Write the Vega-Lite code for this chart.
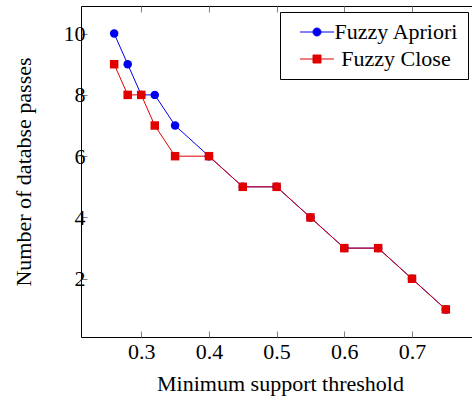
{
  "$schema": "https://vega.github.io/schema/vega-lite/v6.json",
  "width": 398,
  "height": 331,
  "autosize": {"type": "none"},
  "padding": {"left": 81, "top": 6, "right": 0, "bottom": 66},
  "background": "white",
  "config": {
    "view": {"stroke": "black", "strokeWidth": 1},
    "font": "Liberation Serif",
    "axis": {
      "labelFont": "Liberation Serif",
      "titleFont": "Liberation Serif",
      "labelFontSize": 22,
      "titleFontSize": 22,
      "labelColor": "black",
      "titleColor": "black",
      "titleFontWeight": "normal",
      "domain": false,
      "grid": false,
      "tickColor": "#7f7f7f",
      "tickSize": -6,
      "tickWidth": 1
    }
  },
  "data": {
    "values": [
      {"series": "Fuzzy Apriori", "support": 0.26, "passes": 10},
      {"series": "Fuzzy Apriori", "support": 0.28, "passes": 9},
      {"series": "Fuzzy Apriori", "support": 0.3, "passes": 8},
      {"series": "Fuzzy Apriori", "support": 0.32, "passes": 8},
      {"series": "Fuzzy Apriori", "support": 0.35, "passes": 7},
      {"series": "Fuzzy Apriori", "support": 0.4, "passes": 6},
      {"series": "Fuzzy Apriori", "support": 0.45, "passes": 5},
      {"series": "Fuzzy Apriori", "support": 0.5, "passes": 5},
      {"series": "Fuzzy Apriori", "support": 0.55, "passes": 4},
      {"series": "Fuzzy Apriori", "support": 0.6, "passes": 3},
      {"series": "Fuzzy Apriori", "support": 0.65, "passes": 3},
      {"series": "Fuzzy Apriori", "support": 0.7, "passes": 2},
      {"series": "Fuzzy Apriori", "support": 0.75, "passes": 1},
      {"series": "Fuzzy Close", "support": 0.26, "passes": 9},
      {"series": "Fuzzy Close", "support": 0.28, "passes": 8},
      {"series": "Fuzzy Close", "support": 0.3, "passes": 8},
      {"series": "Fuzzy Close", "support": 0.32, "passes": 7},
      {"series": "Fuzzy Close", "support": 0.35, "passes": 6},
      {"series": "Fuzzy Close", "support": 0.4, "passes": 6},
      {"series": "Fuzzy Close", "support": 0.45, "passes": 5},
      {"series": "Fuzzy Close", "support": 0.5, "passes": 5},
      {"series": "Fuzzy Close", "support": 0.55, "passes": 4},
      {"series": "Fuzzy Close", "support": 0.6, "passes": 3},
      {"series": "Fuzzy Close", "support": 0.65, "passes": 3},
      {"series": "Fuzzy Close", "support": 0.7, "passes": 2},
      {"series": "Fuzzy Close", "support": 0.75, "passes": 1}
    ]
  },
  "resolve": {"axis": {"x": "independent", "y": "independent"}},
  "layer": [
    {
      "mark": {"type": "line", "strokeWidth": 1},
      "encoding": {
        "x": {
          "field": "support", "type": "quantitative",
          "scale": {"domain": [0.211, 0.799], "nice": false, "zero": false},
          "axis": {"values": [0.3, 0.4, 0.5, 0.6, 0.7], "format": ".1f", "title": "Minimum support threshold", "labelPadding": 10, "titlePadding": 11}
        },
        "y": {
          "field": "passes", "type": "quantitative",
          "scale": {"domain": [0.1, 10.9], "nice": false, "zero": false},
          "axis": {"values": [2, 4, 6, 8, 10], "title": "Number of databse passes", "labelPadding": 2, "titlePadding": 28}
        },
        "color": {
          "field": "series", "type": "nominal",
          "scale": {"domain": ["Fuzzy Apriori", "Fuzzy Close"], "range": ["#0000ee", "#e00000"]},
          "legend": {
            "orient": "none",
            "legendX": 199,
            "legendY": 6,
            "title": null,
            "strokeColor": "black",
            "fillColor": "white",
            "padding": 9,
            "rowPadding": 5,
            "labelFont": "Liberation Serif",
            "labelFontSize": 22,
            "labelColor": "black",
            "labelAlign": "center",
            "labelOffset": 85,
            "symbolSize": 100,
            "symbolStrokeWidth": 1,
            "encode": {
              "symbols": {
                "update": {
                  "shape": {"signal": "datum.value === 'Fuzzy Apriori' ? 'M0,0H6.8M2.6,0A0.8,0.8,0,1,0,4.2,0A0.8,0.8,0,1,0,2.6,0Z' : 'M0,0H6.8M2.6,-0.8H4.2V0.8H2.6Z'"},
                  "fill": {"scale": "color", "field": "value"},
                  "stroke": {"scale": "color", "field": "value"},
                  "opacity": {"value": 1},
                  "fillOpacity": {"value": 1},
                  "strokeOpacity": {"value": 1}
                }
              }
            }
          }
        }
      }
    },
    {
      "transform": [{"filter": "datum.series === 'Fuzzy Apriori'"}],
      "mark": {"type": "point", "shape": "circle", "filled": true, "opacity": 1, "size": 72},
      "encoding": {
        "x": {"field": "support", "type": "quantitative", "axis": {"orient": "top", "values": [0.3, 0.4, 0.5, 0.6, 0.7], "labels": false, "title": null}},
        "y": {"field": "passes", "type": "quantitative", "axis": {"orient": "right", "values": [2, 4, 6, 8, 10], "labels": false, "title": null}},
        "color": {"field": "series", "type": "nominal"}
      }
    },
    {
      "transform": [{"filter": "datum.series === 'Fuzzy Close'"}],
      "mark": {"type": "point", "shape": "square", "filled": true, "opacity": 1, "size": 72},
      "encoding": {
        "x": {"field": "support", "type": "quantitative", "axis": null},
        "y": {"field": "passes", "type": "quantitative", "axis": null},
        "color": {"field": "series", "type": "nominal"}
      }
    }
  ]
}
